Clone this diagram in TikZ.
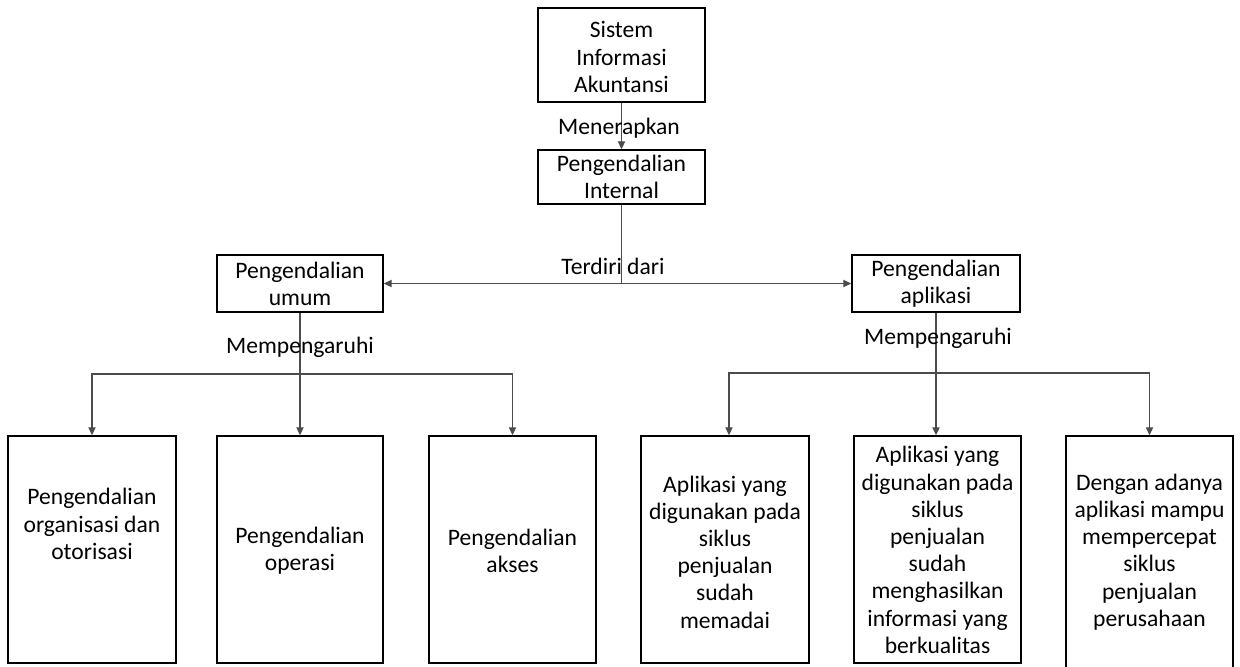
\documentclass[tikz,border=0pt]{standalone}
\usepackage{fontspec}
\setmainfont{Carlito}
\usetikzlibrary{arrows.meta}
\begin{document}
\begin{tikzpicture}[x=0.5pt,y=-0.5pt,
  box/.style={draw=black,line width=0.7pt,inner sep=0pt,rectangle},
  txt/.style={align=center,inner sep=0pt,font=\fontsize{11.8}{13.6}\selectfont},
  lbl/.style={inner sep=0pt,font=\fontsize{11.8}{13.6}\selectfont},
  conn/.style={draw=black!70,line width=0.6pt},
  arr/.style={conn,-{Triangle[length=4pt,width=3.6pt]}}]
\useasboundingbox (0,0) rectangle (1240,666);
% boxes
\node[box,minimum width=83.5pt,minimum height=47pt] (sia) at (621.5,55) {};
\node[box,minimum width=83.5pt,minimum height=27pt] (pi) at (621.5,177) {};
\node[box,minimum width=83pt,minimum height=28.5pt] (pu) at (300,283.5) {};
\node[box,minimum width=84pt,minimum height=28.5pt] (pa) at (936,283.5) {};
\node[box,minimum width=84pt,minimum height=113.5pt] (b1) at (92,549.5) {};
\node[box,minimum width=83pt,minimum height=113.5pt] (b2) at (300,549.5) {};
\node[box,minimum width=83.5pt,minimum height=113.5pt] (b3) at (512.5,549.5) {};
\node[box,minimum width=84pt,minimum height=113.5pt] (b4) at (725,549.5) {};
\node[box,minimum width=83.5pt,minimum height=113.5pt] (b5) at (937.5,549.5) {};
\node[box,minimum width=83.5pt,minimum height=119.5pt] (b6) at (1149.5,555.5) {};
% texts
\node[txt] (tsia) at (621.5,57) {Sistem\\Informasi\\Akuntansi};
\node[txt] (tpi) at (621.5,177) {Pengendalian\\Internal};
\node[txt] (tpu) at (300,283.5) {Pengendalian\\umum};
\node[txt] (tpa) at (936,283.5) {Pengendalian\\aplikasi};
\node[txt] (tb1) at (92,524) {Pengendalian\\organisasi dan\\otorisasi};
\node[txt] (tb2) at (300,551) {Pengendalian\\operasi};
\node[txt] (tb3) at (512.5,551) {Pengendalian\\akses};
\node[txt] (tb4) at (725,552) {Aplikasi yang\\digunakan pada\\siklus\\penjualan\\sudah\\memadai};
\node[txt] (tb5) at (937.5,550) {Aplikasi yang\\digunakan pada\\siklus\\penjualan\\sudah\\menghasilkan\\informasi yang\\berkualitas};
\node[txt] (tb6) at (1149.5,552) {Dengan adanya\\aplikasi mampu\\mempercepat\\siklus\\penjualan\\perusahaan};
% connectors
\draw[arr] (sia.south) -- (pi.north);
\node[lbl] (l1) at (619,128) {Menerapkan};
\draw[arr] (pi.south) |- (pu.east);
\draw[arr] (pi.south) |- (pa.west);
\node[lbl] (l2) at (613,266) {Terdiri dari};
\coordinate (jl) at (300,374);
\coordinate (jr) at (936,373);
\draw[conn] (pu.south) -- (jl);
\draw[arr] (jl) -| (b1.north);
\draw[arr] (jl) -- (b2.north);
\draw[arr] (jl) -| (b3.north);
\node[lbl] (l3) at (300,347) {Mempengaruhi};
\draw[conn] (pa.south) -- (jr);
\draw[arr] (jr) -| ([xshift=2pt]b4.north);
\draw[arr] (jr) -- (jr |- b5.north);
\draw[arr] (jr) -| (b6.north);
\node[lbl] (l4) at (938,338) {Mempengaruhi};
\end{tikzpicture}
\end{document}
